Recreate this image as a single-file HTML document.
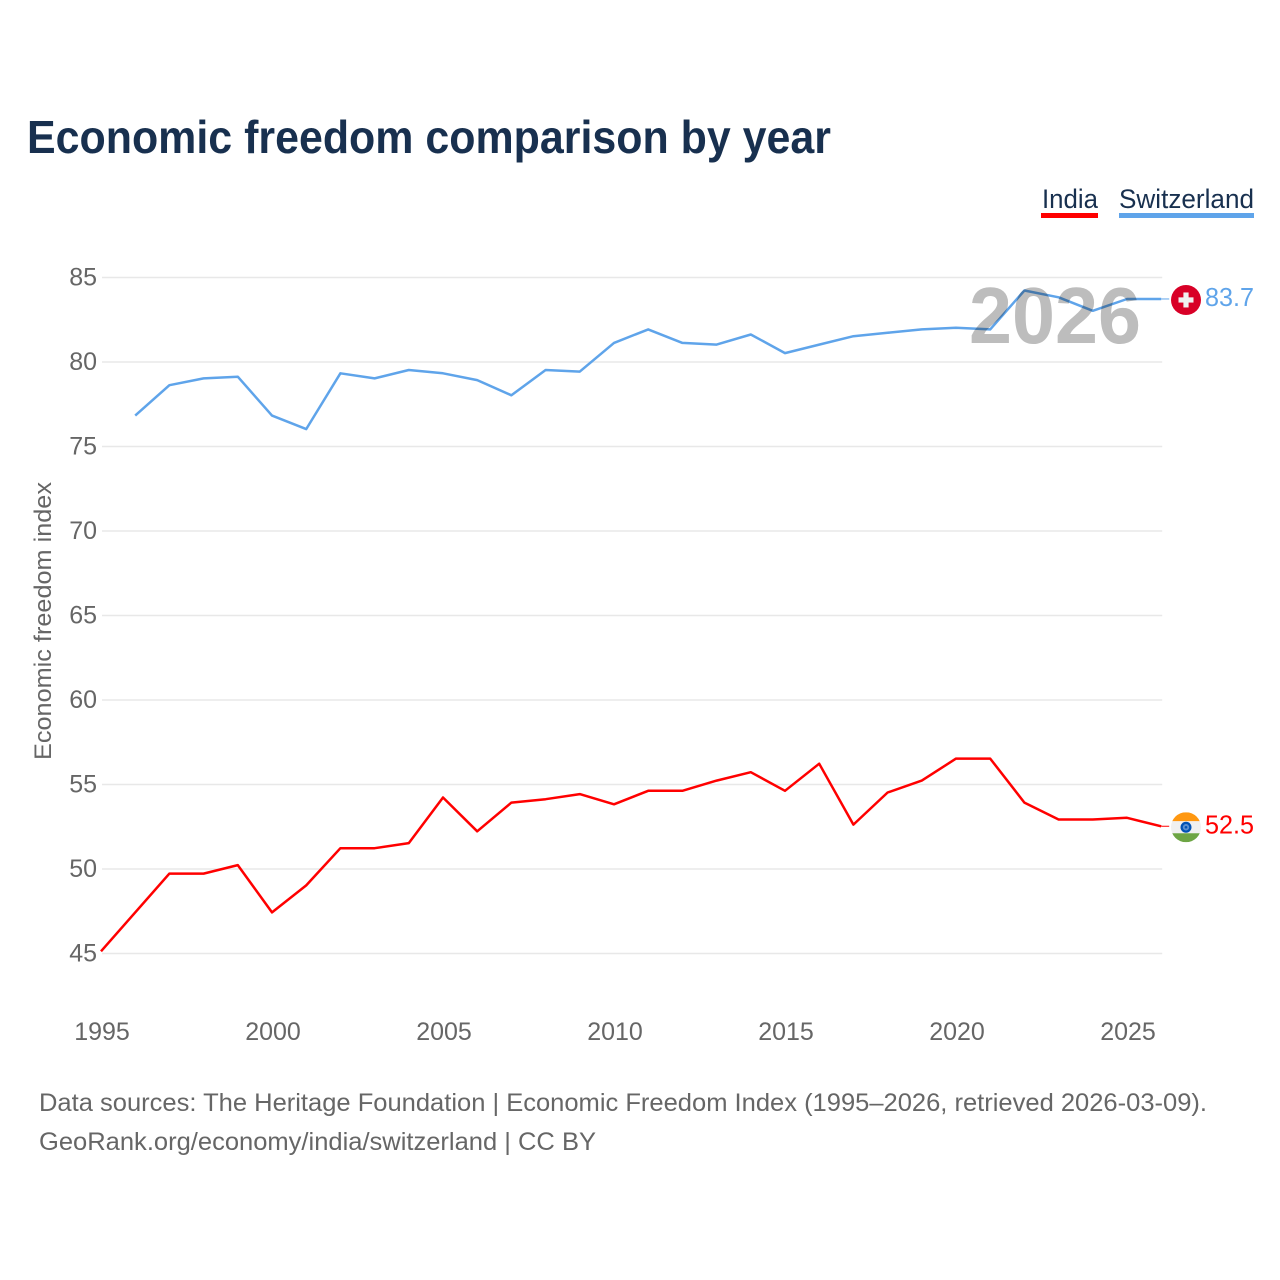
<!DOCTYPE html>
<html lang="en">
<head>
<meta charset="utf-8">
<title>Economic freedom comparison by year</title>
<style>
html,body{margin:0;padding:0;background:#fff;}
svg{display:block;font-family:"Liberation Sans",Arial,sans-serif;}
.tick{font-size:25px;fill:#666;}
.foot{font-size:25px;fill:#666;}
</style>
</head>
<body>
<svg id="chart" width="1280" height="1280" viewBox="0 0 1280 1280" xmlns="http://www.w3.org/2000/svg">
  <rect x="0" y="0" width="1280" height="1280" fill="#fff"/>
  <text x="27" y="153" font-size="46" font-weight="700" fill="#18304f" textLength="804" lengthAdjust="spacingAndGlyphs">Economic freedom comparison by year</text>

  <g>
    <text x="1042" y="208" font-size="27" fill="#18304f" textLength="56" lengthAdjust="spacingAndGlyphs">India</text>
    <rect x="1041" y="213" width="57" height="5" fill="#ff0000"/>
  </g>
  <g>
    <text x="1119" y="208" font-size="27" fill="#18304f" textLength="135" lengthAdjust="spacingAndGlyphs">Switzerland</text>
    <rect x="1119" y="213" width="135" height="5" fill="#5fa4ea"/>
  </g>

  <g id="grid"></g>
  <g id="yticks"></g>
  <g id="xticks"></g>
  <text transform="translate(51,621) rotate(-90)" text-anchor="middle" font-size="24" fill="#666" textLength="278" lengthAdjust="spacingAndGlyphs">Economic freedom index</text>

  <g id="series" transform="translate(-1,-0.5)"></g>
  <text x="969" y="343" font-size="80" font-weight="700" fill="#bdbdbd" style="mix-blend-mode:multiply" textLength="172" lengthAdjust="spacingAndGlyphs">2026</text>

  <defs>
    <clipPath id="flag-clip"><circle cx="0" cy="0" r="15"/></clipPath>
  </defs>
  <g id="flag-switzerland">
    <g clip-path="url(#flag-clip)">
      <rect x="-15" y="-15" width="30" height="30" fill="#d80027"/>
      <rect x="-7.5" y="-2.6" width="15" height="5.2" fill="#f0f0f0"/>
      <rect x="-2.6" y="-7.5" width="5.2" height="15" fill="#f0f0f0"/>
    </g>
  </g>
  <g id="flag-india">
    <g clip-path="url(#flag-clip)">
      <rect x="-15" y="-15" width="30" height="9" fill="#ff9811"/>
      <rect x="-15" y="-6" width="30" height="12" fill="#f0f0f0"/>
      <rect x="-15" y="6" width="30" height="9" fill="#6da544"/>
      <circle cx="0" cy="0" r="5.5" fill="#0052b4"/>
      <circle cx="0" cy="0" r="3.2" fill="#5a8fd0"/>
      <circle cx="0" cy="0" r="1.3" fill="#0052b4"/>
    </g>
  </g>
  <g id="end-labels"></g>

  <text class="foot" x="39" y="1111" textLength="1168" lengthAdjust="spacingAndGlyphs">Data sources: The Heritage Foundation | Economic Freedom Index (1995–2026, retrieved 2026-03-09).</text>
  <text class="foot" x="39" y="1150" textLength="557" lengthAdjust="spacingAndGlyphs">GeoRank.org/economy/india/switzerland | CC BY</text>
</svg>
<script>
const years = [1995,1996,1997,1998,1999,2000,2001,2002,2003,2004,2005,2006,2007,2008,2009,2010,2011,2012,2013,2014,2015,2016,2017,2018,2019,2020,2021,2022,2023,2024,2025,2026];
const indiaValues = [45.1,47.4,49.7,49.7,50.2,47.4,49.0,51.2,51.2,51.5,54.2,52.2,53.9,54.1,54.4,53.8,54.6,54.6,55.2,55.7,54.6,56.2,52.6,54.5,55.2,56.5,56.5,53.9,52.9,52.9,53.0,52.5];
const switzerlandValues = [null,76.8,78.6,79.0,79.1,76.8,76.0,79.3,79.0,79.5,79.3,78.9,78.0,79.5,79.4,81.1,81.9,81.1,81.0,81.6,80.5,81.0,81.5,81.7,81.9,82.0,81.9,84.2,83.8,83.0,83.7,83.7];
const yTickLabels = [45,50,55,60,65,70,75,80,85];
const xTickLabels = [1995,2000,2005,2010,2015,2020,2025];

const NS = 'http://www.w3.org/2000/svg';
function xScale(year){ return 102 + (year - 1995) * 34.2; }
function yScale(value){ return 953.5 - (value - 45) * 16.9; }
function make(tag, parent){
  const node = document.createElementNS(NS, tag);
  parent.appendChild(node);
  return node;
}

const grid = document.getElementById('grid');
const yticks = document.getElementById('yticks');
yTickLabels.forEach(function(tick){
  const line = make('line', grid);
  
  
  line.setAttribute('x1', xScale(1995));
  line.setAttribute('x2', xScale(2026));
  line.setAttribute('y1', yScale(tick));
  line.setAttribute('y2', yScale(tick));
  line.setAttribute('stroke', '#e8e8e8');
  line.setAttribute('stroke-width', '1.5');
  const label = make('text', yticks);
  
  
  label.setAttribute('class', 'tick');
  label.setAttribute('x', 97);
  label.setAttribute('y', yScale(tick) + 8);
  label.setAttribute('text-anchor', 'end');
  label.textContent = tick;
});

const xticks = document.getElementById('xticks');
xTickLabels.forEach(function(tick){
  const label = make('text', xticks);
  
  
  label.setAttribute('class', 'tick');
  label.setAttribute('x', xScale(tick));
  label.setAttribute('y', 1040);
  label.setAttribute('text-anchor', 'middle');
  label.textContent = tick;
});

function drawSeries(values, color, lineName, connectorName, labelName, flagId){
  const parent = document.getElementById('series');
  const pts = [];
  values.forEach(function(v, i){
    if (v !== null) pts.push(xScale(years[i]).toFixed(1) + ',' + yScale(v).toFixed(1));
  });
  const line = make('polyline', parent);
  
  
  line.setAttribute('points', pts.join(' '));
  line.setAttribute('fill', 'none');
  line.setAttribute('stroke', color);
  line.setAttribute('stroke-width', '2.5');
  line.setAttribute('stroke-linejoin', 'round');

  const last = values[values.length - 1];
  const lastX = xScale(years[years.length - 1]);
  const lastY = yScale(last);
  const connector = make('line', parent);
  
  
  connector.setAttribute('x1', lastX);
  connector.setAttribute('x2', lastX + 8);
  connector.setAttribute('y1', lastY);
  connector.setAttribute('y2', lastY);
  connector.setAttribute('stroke', color);
  connector.setAttribute('stroke-width', '1');

  document.getElementById(flagId).setAttribute('transform', 'translate(1186,' + (lastY + 0.5) + ')');

  const label = make('text', document.getElementById('end-labels'));
  
  
  label.setAttribute('x', 1205);
  label.setAttribute('y', lastY + 6.7);
  label.setAttribute('font-size', '26');
  label.setAttribute('fill', color);
  label.setAttribute('textLength', '49');
  label.setAttribute('lengthAdjust', 'spacingAndGlyphs');
  label.textContent = last.toFixed(1);
}

drawSeries(switzerlandValues, '#5fa4ea', 'line-switzerland', 'connector-switzerland', 'end-value-switzerland', 'flag-switzerland');
drawSeries(indiaValues, '#ff0000', 'line-india', 'connector-india', 'end-value-india', 'flag-india');
</script>
</body>
</html>
